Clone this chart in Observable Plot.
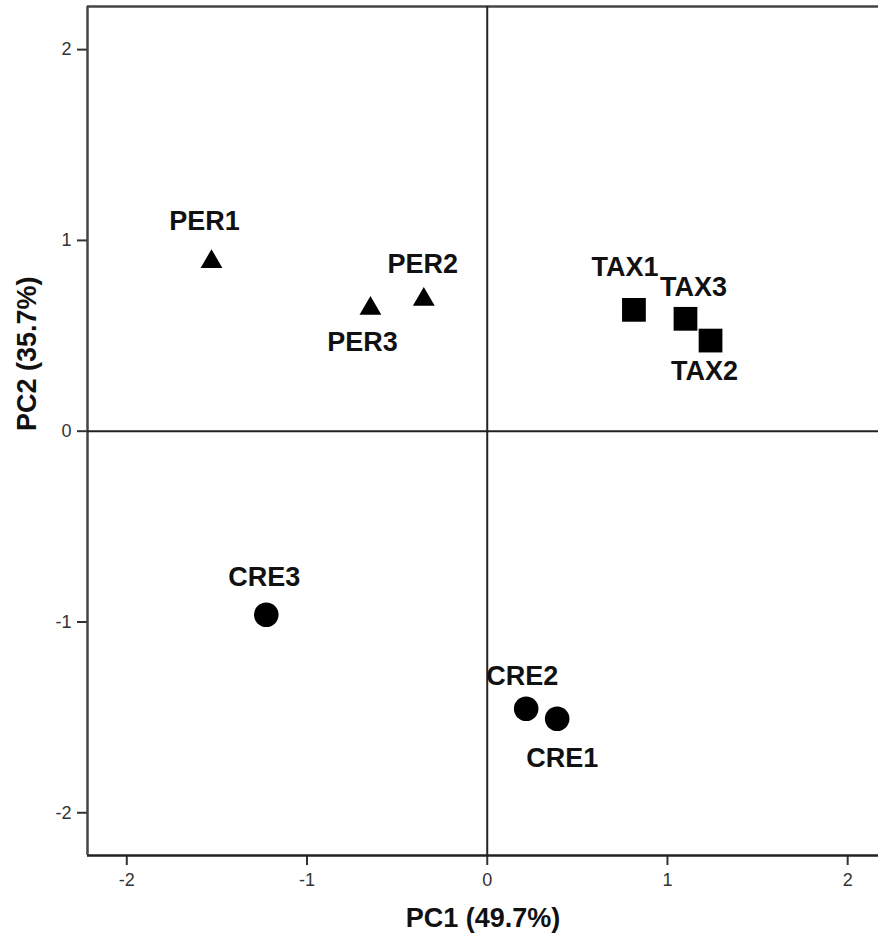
<!DOCTYPE html>
<html>
<head>
<meta charset="utf-8">
<script src="https://cdn.jsdelivr.net/npm/d3@7"></script>
<script src="https://cdn.jsdelivr.net/npm/@observablehq/plot@0.6"></script>
<style>
  html, body { margin: 0; padding: 0; background: #fff; }
  svg { display: block; }
</style>
</head>
<body>
<div id="chart"></div>
<script>
// ---- data ----
const sampleNames = ["PER1", "PER2", "PER3", "TAX1", "TAX2", "TAX3", "CRE1", "CRE2", "CRE3"];
const groups      = ["PER",  "PER",  "PER",  "TAX",  "TAX",  "TAX",  "CRE",  "CRE",  "CRE"];
const pc1Values   = [-1.53, -0.352, -0.648, 0.814, 1.239, 1.100, 0.388, 0.216, -1.226];
const pc2Values   = [0.888, 0.690, 0.643, 0.636, 0.475, 0.589, -1.507, -1.455, -0.962];
const xTicks = [-2, -1, 0, 1, 2];
const yTicks = [-2, -1, 0, 1, 2];
const xTitle = "PC1 (49.7%)";
const yTitle = "PC2 (35.7%)";

const data = sampleNames.map((name, i) => ({name, group: groups[i], pc1: pc1Values[i], pc2: pc2Values[i]}));

// label placement (pixel offsets from marker)
const labelOffset = {
  PER1: [-7, -40], PER2: [-1, -35], PER3: [-8, 34],
  TAX1: [-9, -42], TAX3: [8, -31], TAX2: [-6, 31],
  CRE3: [-2, -37], CRE2: [-4, -32], CRE1: [5, 40]
};

const xDomain = [-2.218, 2.171];
const yDomain = [-2.224, 2.226];
const frameColor = "#444";
const font = "'Liberation Sans', Arial, sans-serif";
const fmt = d => String(d);

const labelMarks = data.map(d => Plot.text([d], {
  x: "pc1", y: "pc2", text: "name",
  dx: labelOffset[d.name][0], dy: labelOffset[d.name][1],
  fontSize: 27, fontWeight: "bold", fill: "#111", lineAnchor: "middle"
}));

const chart = Plot.plot({
  width: 878,
  height: 938,
  marginLeft: 87,
  marginRight: 0,
  marginTop: 6,
  marginBottom: 83,
  style: {fontFamily: font, background: "#fff", color: "#333"},
  x: {domain: xDomain, ticks: xTicks},
  y: {domain: yDomain, ticks: yTicks},
  marks: [
    Plot.axisX({ticks: xTicks, tickFormat: fmt, tickSize: 10, tickPadding: 8, fontSize: 18, label: null, strokeWidth: 2}),
    Plot.axisY({ticks: yTicks, tickFormat: fmt, tickSize: 10, tickPadding: 6, fontSize: 18, label: null, strokeWidth: 2}),
    Plot.ruleY([yDomain[1]], {stroke: frameColor, strokeWidth: 2.5}),
    Plot.ruleY([yDomain[0]], {stroke: "#222", strokeWidth: 2.5}),
    Plot.ruleX([xDomain[0]], {stroke: frameColor, strokeWidth: 2.5}),
    Plot.ruleX([0], {stroke: "#222", strokeWidth: 2}),
    Plot.ruleY([0], {stroke: "#222", strokeWidth: 2}),
    Plot.dot(data.filter(d => d.group === "PER"), {x: "pc1", y: "pc2", symbol: "triangle", r: 8.1, fill: "#000", stroke: "none"}),
    Plot.dot(data.filter(d => d.group === "TAX"), {x: "pc1", y: "pc2", symbol: "square", r: 13.4, fill: "#000", stroke: "none"}),
    Plot.dot(data.filter(d => d.group === "CRE"), {x: "pc1", y: "pc2", symbol: "circle", r: 12.3, fill: "#000", stroke: "none"}),
    ...labelMarks,
    Plot.text([xTitle], {frameAnchor: "bottom", dy: 63, fontSize: 27, fontWeight: "bold", fill: "#111", lineAnchor: "middle"}),
    Plot.text([yTitle], {frameAnchor: "left", dx: -60, rotate: -90, fontSize: 27, fontWeight: "bold", fill: "#111", lineAnchor: "middle"})
  ]
});

document.getElementById("chart").appendChild(chart);
</script>
</body>
</html>
